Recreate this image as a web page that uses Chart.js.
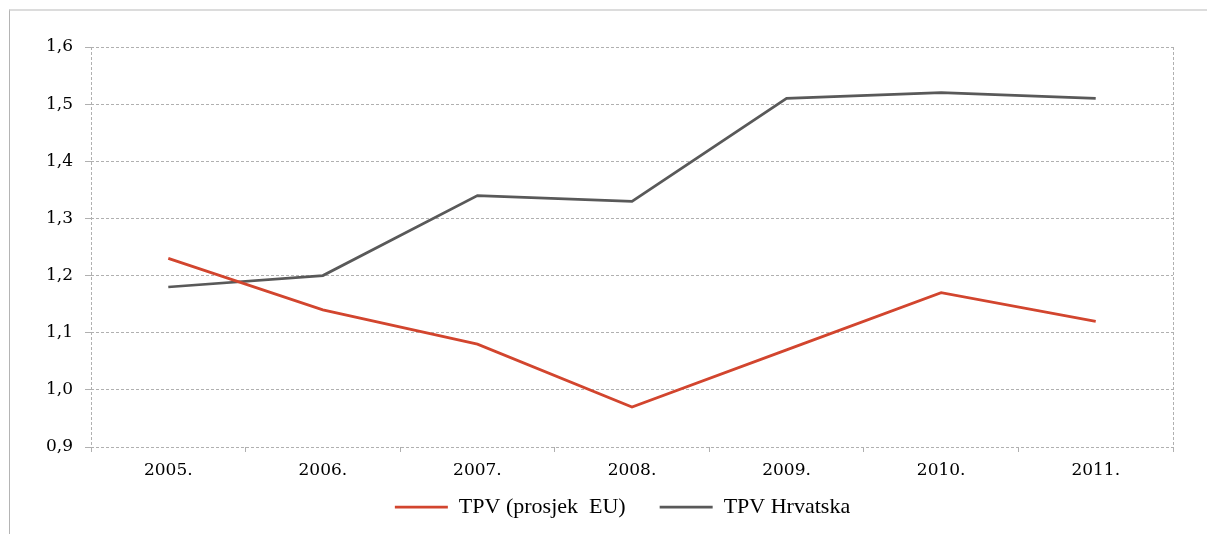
<!DOCTYPE html>
<html>
<head>
<meta charset="utf-8">
<script src="https://cdn.jsdelivr.net/npm/chart.js@4.4.1/dist/chart.umd.min.js"></script>
<style>
  html, body { margin: 0; padding: 0; background: #fff; }
  #wrap { position: relative; width: 1207px; height: 534px; }
  #frame {
    position: absolute; left: 9px; top: 9px; right: 0; bottom: 0;
    border-top: 2px solid #dcdcdc; border-left: 1px solid #b4b4b4;
  }
  #chart { position: absolute; left: 0; top: 0; }
</style>
</head>
<body>
<div id="wrap">
  <div id="frame"></div>
  <canvas id="chart" width="1207" height="534"></canvas>
</div>
<script>
// Chart data
const years = ['2005.', '2006.', '2007.', '2008.', '2009.', '2010.', '2011.'];
const euValues = [1.23, 1.14, 1.08, 0.97, 1.07, 1.17, 1.12];
const hrValues = [1.18, 1.20, 1.34, 1.33, 1.51, 1.52, 1.51];
const seriesNames = ['TPV (prosjek  EU)', 'TPV Hrvatska'];

const gridColor = '#b0b0b0';
const tickFont = { family: '"DejaVu Serif", serif', size: 17 };

// Move the legend so it sits centred under the plot, close to the axis labels
const legendShift = {
  id: 'legendShift',
  afterLayout(chart) {
    const lg = chart.legend;
    if (!lg) return;
    const h = lg.bottom - lg.top;
    lg.top = 462;
    lg.bottom = 462 + h;
    lg.left += 36;
    lg.right += 36;
  },
};

const ctx = document.getElementById('chart').getContext('2d');

new Chart(ctx, {
  type: 'line',
  data: {
    labels: years,
    datasets: [
      {
        label: seriesNames[0],
        data: euValues,
        borderColor: '#d2452e',
        backgroundColor: '#d2452e',
        borderWidth: 2.75,
        pointRadius: 0,
        tension: 0,
      },
      {
        label: seriesNames[1],
        data: hrValues,
        borderColor: '#595959',
        backgroundColor: '#595959',
        borderWidth: 2.75,
        pointRadius: 0,
        tension: 0,
      },
    ],
  },
  options: {
    responsive: false,
    animation: false,
    layout: {
      padding: { top: 47, left: 0, right: 34, bottom: -24 },
    },
    scales: {
      x: {
        offset: true,
        grid: {
          offset: true,
          // only the left and right edges of the plot get a vertical line
          color: (c) => (c.index === undefined || c.index === 0) ? gridColor : 'rgba(0,0,0,0)',
          tickColor: gridColor,
          tickLength: 5,
          lineWidth: 1,
        },
        border: { display: false, dash: [3, 2] },
        ticks: {
          color: '#000',
          font: tickFont,
          padding: 8,
          maxRotation: 0,
        },
        afterFit: (scale) => { scale.height = 45; },
      },
      y: {
        min: 0.9,
        max: 1.6,
        grid: {
          color: gridColor,
          tickLength: 6,
          lineWidth: 1,
        },
        border: { display: false, dash: [3, 2] },
        ticks: {
          stepSize: 0.1,
          color: '#000',
          font: tickFont,
          padding: 12,
          callback: (v) => Number(v).toFixed(1).replace('.', ','),
        },
        afterFit: (scale) => { scale.width = 91; },
      },
    },
    plugins: {
      legend: {
        position: 'bottom',
        labels: {
          usePointStyle: true,
          pointStyle: 'line',
          pointStyleWidth: 53,
          color: '#000',
          font: { family: '"Liberation Serif", serif', size: 22 },
          padding: 34,
        },
      },
      tooltip: { enabled: false },
    },
  },
  plugins: [legendShift],
});
</script>
</body>
</html>
